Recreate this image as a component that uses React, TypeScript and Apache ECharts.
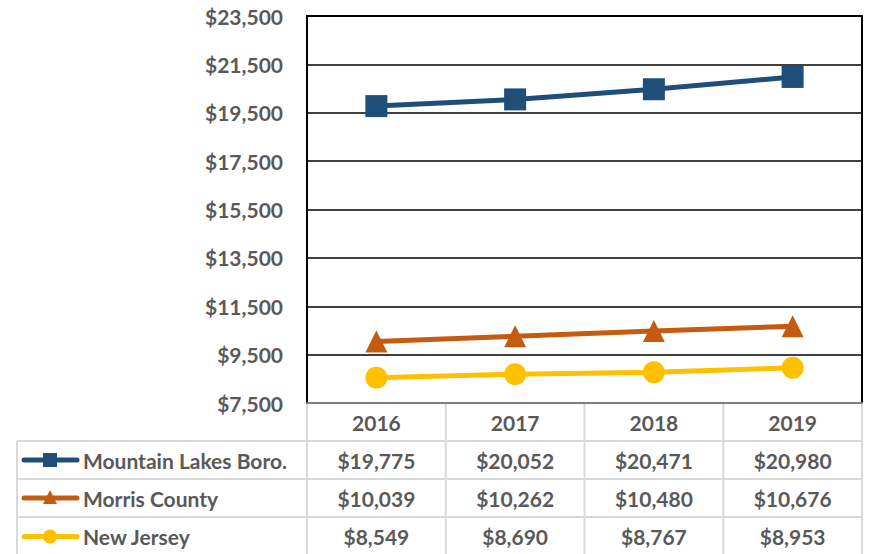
import React, { useEffect, useRef } from "react";
import * as echarts from "echarts";

const years = ["2016", "2017", "2018", "2019"];
const seriesNames = ["Mountain Lakes Boro.", "Morris County", "New Jersey"];
const mountainLakes = [19775, 20052, 20471, 20980];
const morrisCounty = [10039, 10262, 10480, 10676];
const newJersey = [8549, 8690, 8767, 8953];
const yMin = 7500;
const yMax = 23500;
const yStep = 2000;

const colors = ["#1F4E79", "#C55A11", "#FFC000"];
const symbols = ["rect", "triangle", "circle"];
const FONT = "Lato";
const TEXT = "#595959";

const W = 871;
const H = 554;
const gridL = 307;
const gridR = 862;
const gridT = 16;
const gridB = 403;
const rowLines = [403, 441, 479, 517, 556];
const tableLeft = 17;

const fmt = (v: number) => "$" + v.toLocaleString("en-US");

export default function App() {
  const ref = useRef<HTMLDivElement>(null);
  useEffect(() => {
    document.body.style.margin = "0";
    const chart = echarts.init(ref.current!, null, { renderer: "svg" });
    const allData = [mountainLakes, morrisCounty, newJersey];
    const cellW = (gridR - gridL) / years.length;
    const lineStyle = { stroke: "#D9D9D9", lineWidth: 2 };
    const graphics: any[] = [];
    for (let i = 0; i <= years.length; i++) {
      const x = gridL + i * cellW;
      graphics.push({ type: "line", shape: { x1: x, y1: gridB, x2: x, y2: H }, style: lineStyle, silent: true });
    }
    graphics.push({ type: "line", shape: { x1: tableLeft, y1: rowLines[1], x2: tableLeft, y2: H }, style: lineStyle });
    for (let r = 1; r < rowLines.length - 1; r++) {
      graphics.push({ type: "line", shape: { x1: tableLeft, y1: rowLines[r], x2: gridR, y2: rowLines[r] }, style: lineStyle });
    }
    seriesNames.forEach((name, s) => {
      const cy = (rowLines[s + 1] + rowLines[s + 2]) / 2;
      graphics.push({
        type: "line",
        shape: { x1: 24, y1: cy, x2: 77, y2: cy },
        style: { stroke: colors[s], lineWidth: 5, lineCap: "round" },
      });
      if (s === 0) {
        graphics.push({ type: "rect", shape: { x: 43, y: cy - 7, width: 14, height: 14 }, style: { fill: colors[s] } });
      } else if (s === 1) {
        graphics.push({ type: "polygon", shape: { points: [[50, cy - 8], [57, cy + 6], [43, cy + 6]] }, style: { fill: colors[s] } });
      } else {
        graphics.push({ type: "circle", shape: { cx: 50, cy, r: 7 }, style: { fill: colors[s] } });
      }
      graphics.push({
        type: "text",
        x: 83,
        y: cy,
        style: { text: name, font: `bold 21px ${FONT}`, fill: TEXT, verticalAlign: "middle", align: "left" },
      });
      allData[s].forEach((v, i) => {
        graphics.push({
          type: "text",
          x: gridL + (i + 0.5) * cellW,
          y: cy,
          style: { text: fmt(v), font: `bold 21px ${FONT}`, fill: TEXT, verticalAlign: "middle", align: "center" },
        });
      });
    });

    chart.setOption({
      animation: false,
      grid: {
        left: gridL,
        top: gridT,
        width: gridR - gridL,
        height: gridB - gridT,
        show: true,
        borderColor: "#000",
        borderWidth: 2,
      },
      xAxis: {
        type: "category",
        data: years,
        boundaryGap: true,
        axisLine: { show: true, lineStyle: { color: "#7F7F7F", width: 2 } },
        axisTick: { show: false },
        axisLabel: { margin: 9, fontFamily: FONT, fontWeight: "bold", fontSize: 21, color: TEXT },
      },
      yAxis: {
        type: "value",
        min: yMin,
        max: yMax,
        interval: yStep,
        axisLine: { show: true, lineStyle: { color: "#000", width: 2 } },
        axisTick: { show: false },
        splitLine: { lineStyle: { color: "#000", width: 1.5 } },
        axisLabel: {
          margin: 24,
          fontFamily: FONT,
          fontWeight: "bold",
          fontSize: 21,
          color: TEXT,
          formatter: (v: number) => fmt(v),
        },
      },
      series: allData.map((d, s) => ({
        name: seriesNames[s],
        type: "line",
        data: d,
        symbol: symbols[s],
        symbolSize: 22,
        lineStyle: { color: colors[s], width: 5 },
        itemStyle: { color: colors[s] },
      })),
      graphic: graphics,
    });
    return () => chart.dispose();
  }, []);
  return <div ref={ref} style={{ width: W, height: H }} />;
}
